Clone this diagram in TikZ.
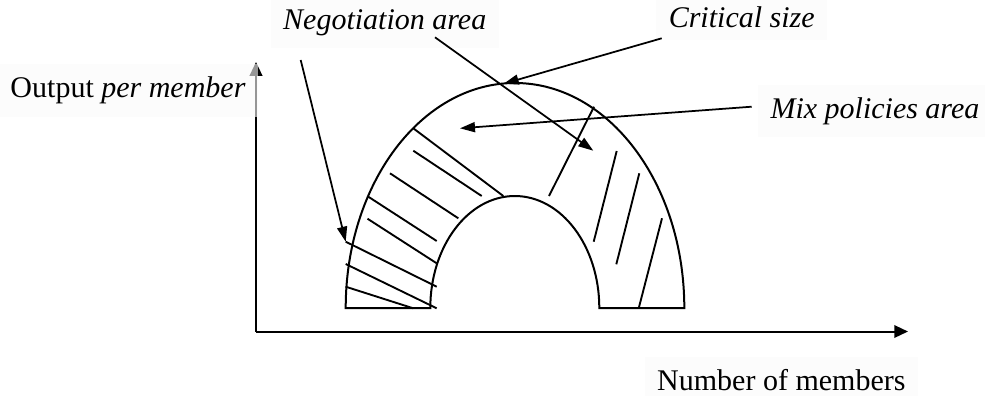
\documentclass[tikz,border=0pt]{standalone}
\usepackage{fontspec}
\setmainfont{Liberation Serif}
\usetikzlibrary{arrows.meta}

\begin{document}
\begin{tikzpicture}[
  x=0.4pt, y=0.4pt,
  >={Triangle[length=6pt,width=4pt]},
  font=\fontsize{12}{14}\selectfont,
  lbl/.style={fill=black!2, fill opacity=0.6, text opacity=1, inner xsep=5pt, inner ysep=5pt, anchor=base west},
  arrow/.style={->, line width=0.7pt},
  axis/.style={-{Triangle[length=5.5pt,width=5pt]}, line width=0.8pt},
  hatch/.style={line width=0.75pt}
]
\useasboundingbox (0,0) rectangle (985,395);
\coordinate (o) at (256,63.5);
\coordinate (xend) at (908,63.5);
\coordinate (yend) at (256,333);
\draw[axis] (o) -- (xend);
\draw[axis] (o) -- (yend);
% labels
\node[lbl] (yl) at (-2.5,297.3) {Output \textit{per member}\hspace{6pt}};
\node[lbl] (xl) at (644.2,4.3) {Number of members};
\node[lbl] (nl) at (270.2,365.7) {\textit{Negotiation area}};
\node[lbl] (cl) at (655.8,367.7) {\textit{Critical size}};
\node[lbl] (ml) at (757.5,276.7) {\textit{Mix policies area}};
% arch
\draw[line width=0.8pt] (345.7,87) arc[start angle=180, end angle=0, x radius=169.3, y radius=225]
  -- (599.3,87) arc[start angle=0, end angle=180, x radius=84.5, y radius=112] -- cycle;
% hatching
\foreach \xa/\ya/\xb/\yb in {413.3/266.7/503.3/199, 413.3/244.3/481.7/199, 390/221.7/458.3/176.7,
    368.3/198.3/436.7/154, 367.5/176.3/436.7/131.7, 345.7/153.3/436.7/108.3,
    345.7/131/436.7/86.7, 345.7/108.3/413.3/86.7,
    594/288.3/549/199, 616.7/244/593.7/153.3, 639.3/221.7/616.3/130.7, 662/176.7/638.7/86.7}
  \draw[hatch] (\xa,\ya) -- (\xb,\yb);
% pointers
\coordinate (negA) at (300.7,335);
\coordinate (negB) at (435,357.7);
\coordinate (crit) at (661.7,356.7);
\coordinate (mix) at (751.7,288.3);
\coordinate (left) at (345.7,153.3);
\coordinate (right) at (593.3,244.3);
\coordinate (top) at (503.7,311.3);
\coordinate (inside) at (460,266.7);
\draw[arrow] (negA) -- (left);
\draw[arrow] (negB) -- (right);
\draw[arrow] (crit) -- (top);
\draw[arrow] (mix) -- (inside);
\end{tikzpicture}
\end{document}
